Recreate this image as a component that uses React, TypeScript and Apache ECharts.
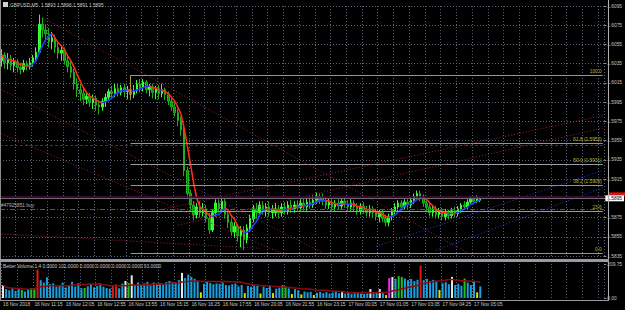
import React, { useEffect, useRef } from 'react';
import * as echarts from 'echarts';

// ---------- data (prices stored as pips above BASE) ----------
const SYMBOL = 'GBPUSD,M5';
const BASE = 1.58;
const PIP = 0.0001;
const SLOTS = 192;

const opens = [238,244,236,240,233,237,231,229,235,232,236,241,247,276,270,266,258,262,252,246,249,238,232,226,214,208,204,198,201,195,199,192,190,196,200,206,204,209,205,210,206,208,203,207,214,210,216,208,211,205,209,204,208,203,196,190,184,176,166,124,100,88,78,86,80,84,74,62,80,90,84,92,78,70,60,66,56,62,52,64,74,84,80,88,82,86,80,80,84,80,86,82,88,84,88,85,90,86,91,88,93,97,96,92,88,91,86,90,87,92,89,86,90,86,82,87,83,80,84,80,76,80,74,70,76,82,86,90,86,91,88,93,97,100,96,90,86,80,84,78,82,76,80,77,82,79,84,88,86,91,94,92,93];
const closes = [244,236,240,233,237,231,229,235,232,236,241,247,276,270,266,258,262,252,246,249,238,232,226,214,208,204,198,201,195,199,192,190,196,200,206,204,209,205,210,206,208,203,207,214,210,216,208,211,205,209,204,208,203,196,190,184,176,166,124,100,88,78,86,80,84,74,62,80,90,84,92,78,70,60,66,56,62,52,64,74,84,80,88,82,86,80,84,84,80,86,82,88,84,88,85,90,86,91,88,93,97,93,92,88,91,86,90,87,92,89,86,90,86,82,87,83,80,84,80,76,80,74,70,76,82,86,90,86,91,88,93,97,100,96,90,86,80,84,78,82,76,80,77,82,79,84,88,86,91,94,92,96,95];
const lows = [232,230,229,228,226,226,224,226,228,229,232,238,245,262,258,252,250,246,240,238,234,226,220,208,200,196,192,193,190,188,186,182,186,190,196,199,200,201,202,200,198,197,199,204,205,206,204,201,199,198,198,200,197,192,186,180,170,160,118,96,82,72,74,75,76,70,58,60,76,80,80,74,64,56,54,50,44,41,48,60,70,74,76,78,76,76,74,76,74,76,78,78,80,80,81,82,82,82,84,85,89,89,88,84,84,82,82,83,84,85,82,82,81,78,78,79,76,76,75,72,70,70,66,66,72,78,82,82,83,84,85,89,93,92,86,82,76,76,74,74,72,72,73,74,75,76,80,83,84,88,89,90,91];
const highs = [250,247,246,244,241,240,236,239,238,241,244,252,286,283,276,272,268,265,258,254,252,244,238,230,220,214,210,206,205,203,202,197,199,204,209,212,214,214,213,214,212,211,213,218,219,219,218,214,214,212,213,214,210,206,199,194,188,180,170,128,104,92,90,92,90,88,80,84,94,94,96,95,82,74,70,68,66,66,68,78,88,90,92,92,90,92,88,90,88,90,91,92,93,92,93,94,95,96,97,98,101,100,100,96,95,94,93,94,95,96,93,94,93,90,90,91,87,88,87,84,83,83,78,79,85,90,93,93,94,94,96,100,103,103,99,93,90,87,87,85,85,84,83,85,86,87,90,92,94,97,97,98,96];

const volumes = [80,55,48,62,45,58,50,40,52,60,62,175,110,95,128,85,90,70,78,95,65,80,100,70,92,60,62,72,85,66,75,90,70,62,58,78,84,60,88,105,92,140,80,96,85,90,100,78,95,88,92,84,98,105,100,95,110,155,123,145,130,118,108,35,88,100,92,85,90,88,95,80,78,85,90,72,80,30,75,70,78,74,28,70,62,75,30,58,64,80,72,60,25,55,48,22,40,35,38,18,32,38,30,36,28,34,40,30,40,28,32,26,30,34,28,25,30,55,32,36,55,30,18,123,130,118,135,130,120,110,118,105,112,200,110,118,105,112,100,50,92,98,85,130,80,88,76,120,95,80,105,35,72];
// non-blue volume bars: [bar index, colour code]
const volumeHighlights: [number, string][] = [[0,'w'],[6,'g'],[9,'g'],[10,'g'],[11,'r'],[26,'g'],[35,'r'],[36,'r'],[39,'w'],[40,'g'],[41,'w'],[57,'w'],[63,'y'],[77,'y'],[82,'y'],[86,'y'],[89,'g'],[90,'g'],[92,'y'],[95,'y'],[99,'y'],[108,'w'],[117,'w'],[120,'w'],[122,'y'],[123,'m'],[124,'w'],[126,'g'],[127,'g'],[133,'r'],[139,'y'],[143,'w'],[147,'g'],[151,'y']];

const timeLabels = ['16 Nov 2018','16 Nov 11:15','16 Nov 12:05','16 Nov 12:55','16 Nov 13:55','16 Nov 15:15','16 Nov 16:25','16 Nov 17:55','16 Nov 20:05','16 Nov 21:55','16 Nov 23:15','17 Nov 00:05','17 Nov 01:05','17 Nov 03:05','17 Nov 04:25','17 Nov 05:05'];
const PRICE_MIN = 1.5835;
const PRICE_MAX = 1.6095;
const PRICE_STEP = 0.002;
const VOLUME_MAX = 209.75;

// Fibonacci retracement
const fibStartBar = 41;
const fibHigh = 1.6023;
const fibLow = 1.5838;
const fibLevels = [100, 61.8, 50, 38.2, 23.6, 0];
const fibPriced = [61.8, 50, 38.2];
const fibGray = [50, 23.6];

// horizontal objects
const askPrice = 1.5897;
const alertPrice = 1.595;
const orderPrice = 1.5884;
const orderLabel = '#47925851 buy';
const volumeTitle = 'Better Volume 1.4 0.0000 101.0000 0.0000 0.0000 0.0000 0.0000 93.0000';

// trend lines: [bar, pip, bar, pip]
const redTrendLines = [[13,283,150,35],[0,208,104,35],[0,162,91,35],[0,58,82,43],[50,83,191,181],[56,67,191,168]];
const blueTrendLines = [[119,45,191,124],[138,41,191,106]];

// ---------- helpers ----------
const toPrice = (p: number) => +(BASE + p * PIP).toFixed(5);
const sma = (arr: number[], n: number) =>
  arr.map((_, i) => {
    const s = Math.max(0, i - n + 1);
    const w = arr.slice(s, i + 1);
    return w.reduce((a, b) => a + b, 0) / w.length;
  });

const FONT = 'Liberation Sans';
const FS = 4.8;
const TXT = '#c8c8c8';
const GRID = '#56657a';
const GOLD = '#b09a2e';
const RED = '#ff2a1a';
const BLUE = '#1f3fff';
const volColorMap: Record<string, string> = { b: '#1a9fe0', w: '#e8e8e8', g: '#20c020', r: '#e01818', y: '#e0e000', m: '#ff20ff' };

function buildOption() {
  const cats = Array.from({ length: SLOTS }, (_, i) => String(i));
  const candles = opens.map((o, i) => [toPrice(o), toPrice(closes[i]), toPrice(lows[i]), toPrice(highs[i])]);
  const closePrices = closes.map(toPrice);
  const ma = sma(closePrices, 5);

  const runs: { color: string; data: (number | null)[] }[] = [];
  let cur: { color: string; data: (number | null)[] } | null = null;
  for (let i = 1; i < ma.length; i++) {
    const color = ma[i] >= ma[i - 1] ? BLUE : RED;
    if (!cur || cur.color !== color) {
      cur = { color, data: new Array(SLOTS).fill(null) };
      runs.push(cur);
      cur.data[i - 1] = ma[i - 1];
    }
    cur.data[i] = ma[i];
  }

  const hl: Record<number, string> = {};
  volumeHighlights.forEach(([i, c]) => (hl[i] = c));
  const volData = volumes.map((v, i) => ({ value: v, itemStyle: { color: volColorMap[hl[i] || 'b'] } }));
  const volAvg = sma(volumes, 20);

  const n = opens.length;
  const last = n - 1;
  const bidPrice = toPrice(closes[last]);
  const titleText = `${SYMBOL}  ${toPrice(opens[last]).toFixed(4)} ${toPrice(highs[last]).toFixed(4)} ${toPrice(lows[last]).toFixed(4)} ${toPrice(closes[last]).toFixed(4)}`;

  const lbl = (extra: any) => ({ show: true, fontSize: FS, fontFamily: FONT, ...extra });

  const markData: any[] = [];
  fibLevels.forEach((lv) => {
    const price = fibLow + ((fibHigh - fibLow) * lv) / 100;
    const text = fibPriced.includes(lv) ? `${lv.toFixed(1)} (${price.toFixed(4)})` : lv.toFixed(1);
    const color = fibGray.includes(lv) ? '#9c9c9c' : GOLD;
    markData.push([
      { coord: [fibStartBar, price], lineStyle: { color, width: 1, type: 'solid' }, label: lbl({ position: 'insideEndTop', formatter: text, color: '#c8b030', distance: 1 }) },
      { coord: [SLOTS - 1, price] },
    ]);
  });
  markData.push([
    { coord: [fibStartBar, fibHigh], lineStyle: { color: GOLD, width: 1, type: 'solid' }, label: { show: false } },
    { coord: [fibStartBar, fibHigh - 0.0025] },
  ]);
  redTrendLines.forEach(([a, p, b, q]) =>
    markData.push([
      { coord: [a, toPrice(p)], lineStyle: { color: '#9a2036', width: 1, type: [1, 2] }, label: { show: false } },
      { coord: [b, toPrice(q)] },
    ])
  );
  blueTrendLines.forEach(([a, p, b, q]) =>
    markData.push([
      { coord: [a, toPrice(p)], lineStyle: { color: '#2a3ad0', width: 1, type: [1, 2] }, label: { show: false } },
      { coord: [b, toPrice(q)] },
    ])
  );
  markData.push({ yAxis: alertPrice, lineStyle: { color: '#6e1a62', width: 1, type: [3, 2] }, label: { show: false } });
  markData.push({ yAxis: orderPrice, lineStyle: { color: '#d02a1a', width: 1, type: [5, 2, 1, 2] }, label: lbl({ position: 'insideStartTop', formatter: orderLabel, color: '#b8b8b8', distance: 1 }) });
  markData.push({ yAxis: askPrice, lineStyle: { color: '#4a0c42', width: 1.6, type: 'solid' }, label: { show: false } });
  markData.push({ yAxis: bidPrice, lineStyle: { color: '#6a6a6a', width: 1, type: 'solid' }, label: lbl({ position: 'end', formatter: bidPrice.toFixed(4), color: '#000', backgroundColor: '#ffffff', padding: [1, 2, 0, 2], distance: 1 }) });

  const series: any[] = [
    {
      type: 'candlestick',
      xAxisIndex: 0,
      yAxisIndex: 0,
      data: candles,
      barWidth: 2,
      itemStyle: { color: '#2ef52e', color0: '#0f8c0f', borderColor: '#3cff3c', borderColor0: '#1fb01f', borderWidth: 1 },
      markLine: { symbol: ['none', 'none'], silent: true, animation: false, precision: 5, emphasis: { disabled: true }, data: markData },
      z: 2,
    },
    ...runs.map((r) => ({
      type: 'line',
      xAxisIndex: 0,
      yAxisIndex: 0,
      data: r.data,
      showSymbol: false,
      symbol: 'none',
      connectNulls: false,
      lineStyle: { color: r.color, width: 1.6 },
      z: 3,
    })),
    {
      type: 'bar',
      xAxisIndex: 1,
      yAxisIndex: 1,
      data: volData,
      barWidth: 2,
    },
    {
      type: 'line',
      xAxisIndex: 1,
      yAxisIndex: 1,
      data: volAvg,
      symbol: 'none',
      lineStyle: { color: '#8b0c0c', width: 1.5 },
    },
  ];

  const xBase = (gridIndex: number, labels: boolean) => ({
    type: 'category',
    gridIndex,
    data: cats,
    boundaryGap: true,
    axisLine: { show: false },
    axisTick: { show: false },
    axisLabel: labels
      ? {
          show: true,
          interval: (i: number) => i % 10 === 0 && i / 10 < timeLabels.length,
          formatter: (_v: string, i: number) => timeLabels[i / 10] || '',
          color: TXT,
          fontSize: FS,
          fontFamily: FONT,
          align: 'left',
          margin: 4,
        }
      : { show: false },
    splitLine: { show: true, interval: (i: number) => i % 5 === 0, lineStyle: { color: GRID, type: [1, 2], width: 1 } },
  });

  return {
    animation: false,
    backgroundColor: '#000000',
    grid: [
      { left: 0, right: 17, top: 6, height: 250 },
      { left: 0, right: 17, top: 264, height: 34 },
    ],
    xAxis: [xBase(0, false), xBase(1, true)],
    yAxis: [
      {
        type: 'value',
        gridIndex: 0,
        position: 'right',
        min: PRICE_MIN,
        max: PRICE_MAX,
        interval: PRICE_STEP,
        axisLine: { show: false },
        axisTick: { show: true, length: 2, lineStyle: { color: '#9a9a9a' } },
        axisLabel: { color: TXT, fontSize: FS, fontFamily: FONT, margin: 3, formatter: (v: number) => v.toFixed(4) },
        splitLine: { show: true, lineStyle: { color: GRID, type: [1, 2], width: 1 } },
      },
      {
        type: 'value',
        gridIndex: 1,
        position: 'right',
        min: 0,
        max: VOLUME_MAX,
        interval: VOLUME_MAX,
        axisLine: { show: false },
        axisTick: { show: true, length: 2, lineStyle: { color: '#9a9a9a' } },
        axisLabel: { color: TXT, fontSize: FS, fontFamily: FONT, margin: 3, formatter: (v: number) => v.toFixed(2) },
        splitLine: { show: false },
      },
    ],
    graphic: [
      { id: 'fl', type: 'line', shape: { x1: 0.5, y1: 0, x2: 0.5, y2: 301 }, style: { stroke: '#8a8a8a', lineWidth: 1 }, z: 10 },
      { id: 'fr', type: 'line', shape: { x1: 608.5, y1: 0, x2: 608.5, y2: 301 }, style: { stroke: '#b0b0b0', lineWidth: 1 }, z: 10 },
      { id: 'fs', type: 'rect', shape: { x: 0, y: 259, width: 609, height: 3 }, style: { fill: '#9a9a9a' }, z: 10 },
      { id: 'fb', type: 'line', shape: { x1: 0, y1: 300.5, x2: 609, y2: 300.5 }, style: { stroke: '#9a9a9a', lineWidth: 1 }, z: 10 },
      { id: 'ic', type: 'rect', shape: { x: 3, y: 2, width: 5, height: 5 }, style: { fill: '#d0d0d0' }, z: 11 },
      { id: 't1', type: 'text', x: 10, y: 2.5, style: { text: titleText, fill: TXT, fontSize: FS, fontFamily: FONT }, z: 11 },
      { id: 't2', type: 'text', x: 3, y: 264, style: { text: volumeTitle, fill: TXT, fontSize: FS, fontFamily: FONT }, z: 11 },
    ],
    series,
  };
}

export default function App() {
  const ref = useRef<HTMLDivElement>(null);
  useEffect(() => {
    const chart = echarts.init(ref.current!, null, { renderer: 'svg' });
    chart.setOption(buildOption() as any);
    // red ask marker box on the price scale, placed through the axis scale
    const yAsk = chart.convertToPixel({ yAxisIndex: 0 }, askPrice) as number;
    chart.setOption({
      graphic: [{ id: 'askBox', type: 'rect', shape: { x: 609, y: yAsk - 4, width: 16, height: 4 }, style: { fill: '#e01010' }, z: 5 }],
    });
    return () => chart.dispose();
  }, []);
  return <div ref={ref} style={{ position: 'fixed', left: 0, top: 0, width: 625, height: 310, background: '#000' }} />;
}
